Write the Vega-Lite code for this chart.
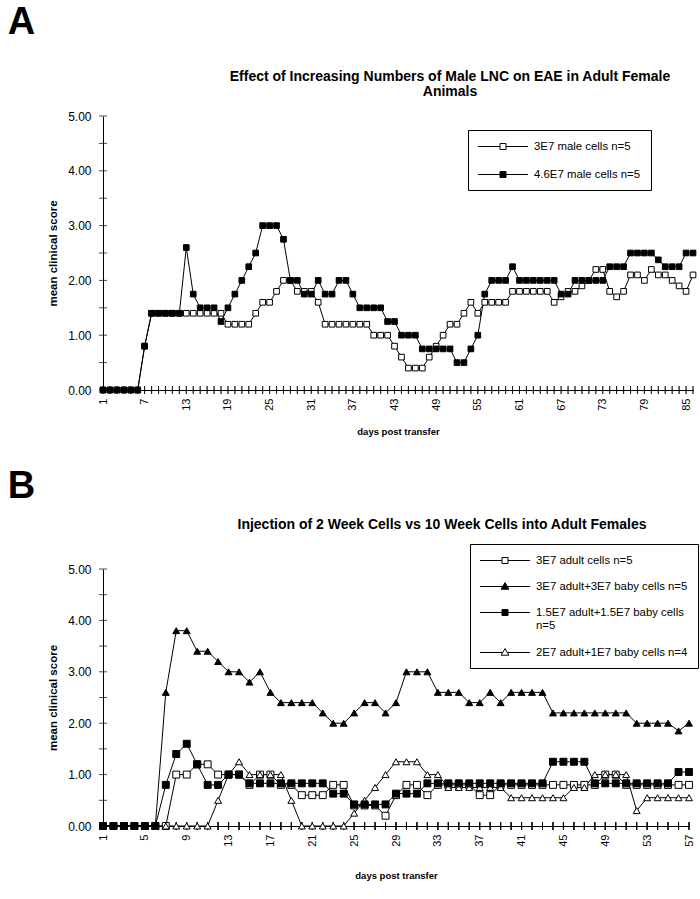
{
  "$schema": "https://vega.github.io/schema/vega-lite/v6.json",
  "padding": {"left": 7, "top": 4, "right": 4, "bottom": 4},
  "config": {
    "font": "Liberation Sans",
    "view": {"stroke": null},
    "axis": {"domainColor": "black", "domainWidth": 1, "ticks": false, "grid": false, "labelColor": "black", "titleColor": "black", "labelFont": "Liberation Sans", "titleFont": "Liberation Sans"},
    "legend": {"labelFont": "Liberation Sans", "labelColor": "black"}
  },
  "resolve": {"scale": {"shape": "independent", "fill": "independent", "stroke": "independent"}, "legend": {"shape": "independent", "fill": "independent", "stroke": "independent"}},
  "datasets": {
    "a": [
      {"day":1,"score":0,"series":"3E7 male cells n=5"},{"day":2,"score":0,"series":"3E7 male cells n=5"},{"day":3,"score":0,"series":"3E7 male cells n=5"},{"day":4,"score":0,"series":"3E7 male cells n=5"},{"day":5,"score":0,"series":"3E7 male cells n=5"},{"day":6,"score":0,"series":"3E7 male cells n=5"},{"day":7,"score":0.8,"series":"3E7 male cells n=5"},{"day":8,"score":1.4,"series":"3E7 male cells n=5"},{"day":9,"score":1.4,"series":"3E7 male cells n=5"},{"day":10,"score":1.4,"series":"3E7 male cells n=5"},{"day":11,"score":1.4,"series":"3E7 male cells n=5"},{"day":12,"score":1.4,"series":"3E7 male cells n=5"},
      {"day":13,"score":1.4,"series":"3E7 male cells n=5"},{"day":14,"score":1.4,"series":"3E7 male cells n=5"},{"day":15,"score":1.4,"series":"3E7 male cells n=5"},{"day":16,"score":1.4,"series":"3E7 male cells n=5"},{"day":17,"score":1.4,"series":"3E7 male cells n=5"},{"day":18,"score":1.4,"series":"3E7 male cells n=5"},
      {"day":19,"score":1.2,"series":"3E7 male cells n=5"},{"day":20,"score":1.2,"series":"3E7 male cells n=5"},{"day":21,"score":1.2,"series":"3E7 male cells n=5"},{"day":22,"score":1.2,"series":"3E7 male cells n=5"},
      {"day":23,"score":1.4,"series":"3E7 male cells n=5"},{"day":24,"score":1.6,"series":"3E7 male cells n=5"},{"day":25,"score":1.6,"series":"3E7 male cells n=5"},{"day":26,"score":1.8,"series":"3E7 male cells n=5"},{"day":27,"score":2.0,"series":"3E7 male cells n=5"},{"day":28,"score":2.0,"series":"3E7 male cells n=5"},
      {"day":29,"score":1.8,"series":"3E7 male cells n=5"},{"day":30,"score":1.8,"series":"3E7 male cells n=5"},{"day":31,"score":1.8,"series":"3E7 male cells n=5"},{"day":32,"score":1.6,"series":"3E7 male cells n=5"},
      {"day":33,"score":1.2,"series":"3E7 male cells n=5"},{"day":34,"score":1.2,"series":"3E7 male cells n=5"},{"day":35,"score":1.2,"series":"3E7 male cells n=5"},{"day":36,"score":1.2,"series":"3E7 male cells n=5"},{"day":37,"score":1.2,"series":"3E7 male cells n=5"},{"day":38,"score":1.2,"series":"3E7 male cells n=5"},{"day":39,"score":1.2,"series":"3E7 male cells n=5"},
      {"day":40,"score":1.0,"series":"3E7 male cells n=5"},{"day":41,"score":1.0,"series":"3E7 male cells n=5"},{"day":42,"score":1.0,"series":"3E7 male cells n=5"},{"day":43,"score":0.8,"series":"3E7 male cells n=5"},{"day":44,"score":0.6,"series":"3E7 male cells n=5"},{"day":45,"score":0.4,"series":"3E7 male cells n=5"},{"day":46,"score":0.4,"series":"3E7 male cells n=5"},{"day":47,"score":0.4,"series":"3E7 male cells n=5"},{"day":48,"score":0.6,"series":"3E7 male cells n=5"},{"day":49,"score":0.8,"series":"3E7 male cells n=5"},{"day":50,"score":1.0,"series":"3E7 male cells n=5"},
      {"day":51,"score":1.2,"series":"3E7 male cells n=5"},{"day":52,"score":1.2,"series":"3E7 male cells n=5"},{"day":53,"score":1.4,"series":"3E7 male cells n=5"},{"day":54,"score":1.6,"series":"3E7 male cells n=5"},{"day":55,"score":1.4,"series":"3E7 male cells n=5"},{"day":56,"score":1.6,"series":"3E7 male cells n=5"},
      {"day":57,"score":1.6,"series":"3E7 male cells n=5"},{"day":58,"score":1.6,"series":"3E7 male cells n=5"},{"day":59,"score":1.6,"series":"3E7 male cells n=5"},
      {"day":60,"score":1.8,"series":"3E7 male cells n=5"},{"day":61,"score":1.8,"series":"3E7 male cells n=5"},{"day":62,"score":1.8,"series":"3E7 male cells n=5"},{"day":63,"score":1.8,"series":"3E7 male cells n=5"},{"day":64,"score":1.8,"series":"3E7 male cells n=5"},{"day":65,"score":1.8,"series":"3E7 male cells n=5"},
      {"day":66,"score":1.6,"series":"3E7 male cells n=5"},{"day":67,"score":1.7,"series":"3E7 male cells n=5"},{"day":68,"score":1.8,"series":"3E7 male cells n=5"},
      {"day":69,"score":1.8,"series":"3E7 male cells n=5"},{"day":70,"score":1.9,"series":"3E7 male cells n=5"},{"day":71,"score":2.0,"series":"3E7 male cells n=5"},{"day":72,"score":2.2,"series":"3E7 male cells n=5"},{"day":73,"score":2.2,"series":"3E7 male cells n=5"},
      {"day":74,"score":1.8,"series":"3E7 male cells n=5"},{"day":75,"score":1.7,"series":"3E7 male cells n=5"},{"day":76,"score":1.8,"series":"3E7 male cells n=5"},{"day":77,"score":2.1,"series":"3E7 male cells n=5"},{"day":78,"score":2.1,"series":"3E7 male cells n=5"},{"day":79,"score":2.0,"series":"3E7 male cells n=5"},{"day":80,"score":2.2,"series":"3E7 male cells n=5"},{"day":81,"score":2.1,"series":"3E7 male cells n=5"},{"day":82,"score":2.1,"series":"3E7 male cells n=5"},{"day":83,"score":2.0,"series":"3E7 male cells n=5"},{"day":84,"score":1.9,"series":"3E7 male cells n=5"},{"day":85,"score":1.8,"series":"3E7 male cells n=5"},{"day":86,"score":2.1,"series":"3E7 male cells n=5"},
      {"day":1,"score":0,"series":"4.6E7 male cells n=5"},{"day":2,"score":0,"series":"4.6E7 male cells n=5"},{"day":3,"score":0,"series":"4.6E7 male cells n=5"},{"day":4,"score":0,"series":"4.6E7 male cells n=5"},{"day":5,"score":0,"series":"4.6E7 male cells n=5"},{"day":6,"score":0,"series":"4.6E7 male cells n=5"},{"day":7,"score":0.8,"series":"4.6E7 male cells n=5"},{"day":8,"score":1.4,"series":"4.6E7 male cells n=5"},{"day":9,"score":1.4,"series":"4.6E7 male cells n=5"},{"day":10,"score":1.4,"series":"4.6E7 male cells n=5"},{"day":11,"score":1.4,"series":"4.6E7 male cells n=5"},{"day":12,"score":1.4,"series":"4.6E7 male cells n=5"},
      {"day":13,"score":2.6,"series":"4.6E7 male cells n=5"},{"day":14,"score":1.75,"series":"4.6E7 male cells n=5"},{"day":15,"score":1.5,"series":"4.6E7 male cells n=5"},{"day":16,"score":1.5,"series":"4.6E7 male cells n=5"},{"day":17,"score":1.5,"series":"4.6E7 male cells n=5"},{"day":18,"score":1.25,"series":"4.6E7 male cells n=5"},
      {"day":19,"score":1.5,"series":"4.6E7 male cells n=5"},{"day":20,"score":1.75,"series":"4.6E7 male cells n=5"},{"day":21,"score":2.0,"series":"4.6E7 male cells n=5"},{"day":22,"score":2.25,"series":"4.6E7 male cells n=5"},
      {"day":23,"score":2.5,"series":"4.6E7 male cells n=5"},{"day":24,"score":3.0,"series":"4.6E7 male cells n=5"},{"day":25,"score":3.0,"series":"4.6E7 male cells n=5"},{"day":26,"score":3.0,"series":"4.6E7 male cells n=5"},{"day":27,"score":2.75,"series":"4.6E7 male cells n=5"},{"day":28,"score":2.0,"series":"4.6E7 male cells n=5"},
      {"day":29,"score":2.0,"series":"4.6E7 male cells n=5"},{"day":30,"score":1.75,"series":"4.6E7 male cells n=5"},{"day":31,"score":1.75,"series":"4.6E7 male cells n=5"},{"day":32,"score":2.0,"series":"4.6E7 male cells n=5"},
      {"day":33,"score":1.75,"series":"4.6E7 male cells n=5"},{"day":34,"score":1.75,"series":"4.6E7 male cells n=5"},{"day":35,"score":2.0,"series":"4.6E7 male cells n=5"},{"day":36,"score":2.0,"series":"4.6E7 male cells n=5"},{"day":37,"score":1.75,"series":"4.6E7 male cells n=5"},{"day":38,"score":1.5,"series":"4.6E7 male cells n=5"},{"day":39,"score":1.5,"series":"4.6E7 male cells n=5"},
      {"day":40,"score":1.5,"series":"4.6E7 male cells n=5"},{"day":41,"score":1.5,"series":"4.6E7 male cells n=5"},{"day":42,"score":1.25,"series":"4.6E7 male cells n=5"},{"day":43,"score":1.25,"series":"4.6E7 male cells n=5"},{"day":44,"score":1.0,"series":"4.6E7 male cells n=5"},{"day":45,"score":1.0,"series":"4.6E7 male cells n=5"},{"day":46,"score":1.0,"series":"4.6E7 male cells n=5"},{"day":47,"score":0.75,"series":"4.6E7 male cells n=5"},{"day":48,"score":0.75,"series":"4.6E7 male cells n=5"},{"day":49,"score":0.75,"series":"4.6E7 male cells n=5"},{"day":50,"score":0.75,"series":"4.6E7 male cells n=5"},
      {"day":51,"score":0.75,"series":"4.6E7 male cells n=5"},{"day":52,"score":0.5,"series":"4.6E7 male cells n=5"},{"day":53,"score":0.5,"series":"4.6E7 male cells n=5"},{"day":54,"score":0.75,"series":"4.6E7 male cells n=5"},{"day":55,"score":1.0,"series":"4.6E7 male cells n=5"},{"day":56,"score":1.75,"series":"4.6E7 male cells n=5"},
      {"day":57,"score":2.0,"series":"4.6E7 male cells n=5"},{"day":58,"score":2.0,"series":"4.6E7 male cells n=5"},{"day":59,"score":2.0,"series":"4.6E7 male cells n=5"},
      {"day":60,"score":2.25,"series":"4.6E7 male cells n=5"},{"day":61,"score":2.0,"series":"4.6E7 male cells n=5"},{"day":62,"score":2.0,"series":"4.6E7 male cells n=5"},{"day":63,"score":2.0,"series":"4.6E7 male cells n=5"},{"day":64,"score":2.0,"series":"4.6E7 male cells n=5"},{"day":65,"score":2.0,"series":"4.6E7 male cells n=5"},
      {"day":66,"score":2.0,"series":"4.6E7 male cells n=5"},{"day":67,"score":1.75,"series":"4.6E7 male cells n=5"},{"day":68,"score":1.75,"series":"4.6E7 male cells n=5"},
      {"day":69,"score":2.0,"series":"4.6E7 male cells n=5"},{"day":70,"score":2.0,"series":"4.6E7 male cells n=5"},{"day":71,"score":2.0,"series":"4.6E7 male cells n=5"},{"day":72,"score":2.0,"series":"4.6E7 male cells n=5"},{"day":73,"score":2.0,"series":"4.6E7 male cells n=5"},
      {"day":74,"score":2.25,"series":"4.6E7 male cells n=5"},{"day":75,"score":2.25,"series":"4.6E7 male cells n=5"},{"day":76,"score":2.25,"series":"4.6E7 male cells n=5"},{"day":77,"score":2.5,"series":"4.6E7 male cells n=5"},{"day":78,"score":2.5,"series":"4.6E7 male cells n=5"},{"day":79,"score":2.5,"series":"4.6E7 male cells n=5"},{"day":80,"score":2.5,"series":"4.6E7 male cells n=5"},{"day":81,"score":2.375,"series":"4.6E7 male cells n=5"},{"day":82,"score":2.25,"series":"4.6E7 male cells n=5"},{"day":83,"score":2.25,"series":"4.6E7 male cells n=5"},{"day":84,"score":2.25,"series":"4.6E7 male cells n=5"},{"day":85,"score":2.5,"series":"4.6E7 male cells n=5"},{"day":86,"score":2.5,"series":"4.6E7 male cells n=5"}
    ],
    "b": [
      {"day":1,"score":0,"series":"3E7 adult cells  n=5"},{"day":2,"score":0,"series":"3E7 adult cells  n=5"},{"day":3,"score":0,"series":"3E7 adult cells  n=5"},{"day":4,"score":0,"series":"3E7 adult cells  n=5"},{"day":5,"score":0,"series":"3E7 adult cells  n=5"},{"day":6,"score":0,"series":"3E7 adult cells  n=5"},{"day":7,"score":0,"series":"3E7 adult cells  n=5"},
      {"day":8,"score":1.0,"series":"3E7 adult cells  n=5"},{"day":9,"score":1.0,"series":"3E7 adult cells  n=5"},{"day":10,"score":1.2,"series":"3E7 adult cells  n=5"},{"day":11,"score":1.2,"series":"3E7 adult cells  n=5"},{"day":12,"score":1.0,"series":"3E7 adult cells  n=5"},{"day":13,"score":1.0,"series":"3E7 adult cells  n=5"},{"day":14,"score":1.0,"series":"3E7 adult cells  n=5"},{"day":15,"score":0.8,"series":"3E7 adult cells  n=5"},{"day":16,"score":1.0,"series":"3E7 adult cells  n=5"},{"day":17,"score":1.0,"series":"3E7 adult cells  n=5"},{"day":18,"score":0.8,"series":"3E7 adult cells  n=5"},{"day":19,"score":0.8,"series":"3E7 adult cells  n=5"},
      {"day":20,"score":0.6,"series":"3E7 adult cells  n=5"},{"day":21,"score":0.6,"series":"3E7 adult cells  n=5"},{"day":22,"score":0.6,"series":"3E7 adult cells  n=5"},{"day":23,"score":0.8,"series":"3E7 adult cells  n=5"},{"day":24,"score":0.8,"series":"3E7 adult cells  n=5"},{"day":25,"score":0.4,"series":"3E7 adult cells  n=5"},{"day":26,"score":0.4,"series":"3E7 adult cells  n=5"},{"day":27,"score":0.4,"series":"3E7 adult cells  n=5"},{"day":28,"score":0.2,"series":"3E7 adult cells  n=5"},{"day":29,"score":0.6,"series":"3E7 adult cells  n=5"},{"day":30,"score":0.8,"series":"3E7 adult cells  n=5"},{"day":31,"score":0.8,"series":"3E7 adult cells  n=5"},{"day":32,"score":0.6,"series":"3E7 adult cells  n=5"},
      {"day":33,"score":0.8,"series":"3E7 adult cells  n=5"},{"day":34,"score":0.8,"series":"3E7 adult cells  n=5"},{"day":35,"score":0.8,"series":"3E7 adult cells  n=5"},{"day":36,"score":0.8,"series":"3E7 adult cells  n=5"},{"day":37,"score":0.6,"series":"3E7 adult cells  n=5"},{"day":38,"score":0.6,"series":"3E7 adult cells  n=5"},{"day":39,"score":0.8,"series":"3E7 adult cells  n=5"},
      {"day":40,"score":0.8,"series":"3E7 adult cells  n=5"},{"day":41,"score":0.8,"series":"3E7 adult cells  n=5"},{"day":42,"score":0.8,"series":"3E7 adult cells  n=5"},{"day":43,"score":0.8,"series":"3E7 adult cells  n=5"},{"day":44,"score":0.8,"series":"3E7 adult cells  n=5"},{"day":45,"score":0.8,"series":"3E7 adult cells  n=5"},{"day":46,"score":0.8,"series":"3E7 adult cells  n=5"},{"day":47,"score":0.8,"series":"3E7 adult cells  n=5"},{"day":48,"score":0.8,"series":"3E7 adult cells  n=5"},{"day":49,"score":1.0,"series":"3E7 adult cells  n=5"},{"day":50,"score":1.0,"series":"3E7 adult cells  n=5"},
      {"day":51,"score":0.8,"series":"3E7 adult cells  n=5"},{"day":52,"score":0.8,"series":"3E7 adult cells  n=5"},{"day":53,"score":0.8,"series":"3E7 adult cells  n=5"},{"day":54,"score":0.8,"series":"3E7 adult cells  n=5"},{"day":55,"score":0.8,"series":"3E7 adult cells  n=5"},{"day":56,"score":0.8,"series":"3E7 adult cells  n=5"},{"day":57,"score":0.8,"series":"3E7 adult cells  n=5"},

      {"day":1,"score":0,"series":"2E7 adult+1E7 baby cells n=4"},{"day":2,"score":0,"series":"2E7 adult+1E7 baby cells n=4"},{"day":3,"score":0,"series":"2E7 adult+1E7 baby cells n=4"},{"day":4,"score":0,"series":"2E7 adult+1E7 baby cells n=4"},{"day":5,"score":0,"series":"2E7 adult+1E7 baby cells n=4"},{"day":6,"score":0,"series":"2E7 adult+1E7 baby cells n=4"},{"day":7,"score":0,"series":"2E7 adult+1E7 baby cells n=4"},{"day":8,"score":0,"series":"2E7 adult+1E7 baby cells n=4"},{"day":9,"score":0,"series":"2E7 adult+1E7 baby cells n=4"},{"day":10,"score":0,"series":"2E7 adult+1E7 baby cells n=4"},{"day":11,"score":0,"series":"2E7 adult+1E7 baby cells n=4"},
      {"day":12,"score":0.5,"series":"2E7 adult+1E7 baby cells n=4"},{"day":13,"score":1.0,"series":"2E7 adult+1E7 baby cells n=4"},{"day":14,"score":1.25,"series":"2E7 adult+1E7 baby cells n=4"},{"day":15,"score":1.0,"series":"2E7 adult+1E7 baby cells n=4"},{"day":16,"score":1.0,"series":"2E7 adult+1E7 baby cells n=4"},{"day":17,"score":1.0,"series":"2E7 adult+1E7 baby cells n=4"},{"day":18,"score":1.0,"series":"2E7 adult+1E7 baby cells n=4"},{"day":19,"score":0.5,"series":"2E7 adult+1E7 baby cells n=4"},
      {"day":20,"score":0,"series":"2E7 adult+1E7 baby cells n=4"},{"day":21,"score":0,"series":"2E7 adult+1E7 baby cells n=4"},{"day":22,"score":0,"series":"2E7 adult+1E7 baby cells n=4"},{"day":23,"score":0,"series":"2E7 adult+1E7 baby cells n=4"},{"day":24,"score":0,"series":"2E7 adult+1E7 baby cells n=4"},
      {"day":25,"score":0.25,"series":"2E7 adult+1E7 baby cells n=4"},{"day":26,"score":0.5,"series":"2E7 adult+1E7 baby cells n=4"},{"day":27,"score":0.75,"series":"2E7 adult+1E7 baby cells n=4"},{"day":28,"score":1.0,"series":"2E7 adult+1E7 baby cells n=4"},{"day":29,"score":1.25,"series":"2E7 adult+1E7 baby cells n=4"},{"day":30,"score":1.25,"series":"2E7 adult+1E7 baby cells n=4"},{"day":31,"score":1.25,"series":"2E7 adult+1E7 baby cells n=4"},{"day":32,"score":1.0,"series":"2E7 adult+1E7 baby cells n=4"},{"day":33,"score":1.0,"series":"2E7 adult+1E7 baby cells n=4"},
      {"day":34,"score":0.75,"series":"2E7 adult+1E7 baby cells n=4"},{"day":35,"score":0.75,"series":"2E7 adult+1E7 baby cells n=4"},{"day":36,"score":0.75,"series":"2E7 adult+1E7 baby cells n=4"},{"day":37,"score":0.75,"series":"2E7 adult+1E7 baby cells n=4"},{"day":38,"score":0.75,"series":"2E7 adult+1E7 baby cells n=4"},{"day":39,"score":0.75,"series":"2E7 adult+1E7 baby cells n=4"},
      {"day":40,"score":0.55,"series":"2E7 adult+1E7 baby cells n=4"},{"day":41,"score":0.55,"series":"2E7 adult+1E7 baby cells n=4"},{"day":42,"score":0.55,"series":"2E7 adult+1E7 baby cells n=4"},{"day":43,"score":0.55,"series":"2E7 adult+1E7 baby cells n=4"},{"day":44,"score":0.55,"series":"2E7 adult+1E7 baby cells n=4"},{"day":45,"score":0.55,"series":"2E7 adult+1E7 baby cells n=4"},
      {"day":46,"score":0.75,"series":"2E7 adult+1E7 baby cells n=4"},{"day":47,"score":0.75,"series":"2E7 adult+1E7 baby cells n=4"},{"day":48,"score":1.0,"series":"2E7 adult+1E7 baby cells n=4"},{"day":49,"score":1.0,"series":"2E7 adult+1E7 baby cells n=4"},{"day":50,"score":1.0,"series":"2E7 adult+1E7 baby cells n=4"},{"day":51,"score":1.0,"series":"2E7 adult+1E7 baby cells n=4"},
      {"day":52,"score":0.3,"series":"2E7 adult+1E7 baby cells n=4"},{"day":53,"score":0.55,"series":"2E7 adult+1E7 baby cells n=4"},{"day":54,"score":0.55,"series":"2E7 adult+1E7 baby cells n=4"},{"day":55,"score":0.55,"series":"2E7 adult+1E7 baby cells n=4"},{"day":56,"score":0.55,"series":"2E7 adult+1E7 baby cells n=4"},{"day":57,"score":0.55,"series":"2E7 adult+1E7 baby cells n=4"},

      {"day":1,"score":0,"series":"1.5E7 adult+1.5E7 baby cells n=5"},{"day":2,"score":0,"series":"1.5E7 adult+1.5E7 baby cells n=5"},{"day":3,"score":0,"series":"1.5E7 adult+1.5E7 baby cells n=5"},{"day":4,"score":0,"series":"1.5E7 adult+1.5E7 baby cells n=5"},{"day":5,"score":0,"series":"1.5E7 adult+1.5E7 baby cells n=5"},{"day":6,"score":0,"series":"1.5E7 adult+1.5E7 baby cells n=5"},{"day":7,"score":0.8,"series":"1.5E7 adult+1.5E7 baby cells n=5"},
      {"day":8,"score":1.4,"series":"1.5E7 adult+1.5E7 baby cells n=5"},{"day":9,"score":1.6,"series":"1.5E7 adult+1.5E7 baby cells n=5"},{"day":10,"score":1.2,"series":"1.5E7 adult+1.5E7 baby cells n=5"},{"day":11,"score":0.8,"series":"1.5E7 adult+1.5E7 baby cells n=5"},{"day":12,"score":0.8,"series":"1.5E7 adult+1.5E7 baby cells n=5"},{"day":13,"score":1.0,"series":"1.5E7 adult+1.5E7 baby cells n=5"},{"day":14,"score":1.0,"series":"1.5E7 adult+1.5E7 baby cells n=5"},{"day":15,"score":0.83,"series":"1.5E7 adult+1.5E7 baby cells n=5"},{"day":16,"score":0.83,"series":"1.5E7 adult+1.5E7 baby cells n=5"},{"day":17,"score":0.83,"series":"1.5E7 adult+1.5E7 baby cells n=5"},{"day":18,"score":0.83,"series":"1.5E7 adult+1.5E7 baby cells n=5"},{"day":19,"score":0.83,"series":"1.5E7 adult+1.5E7 baby cells n=5"},
      {"day":20,"score":0.83,"series":"1.5E7 adult+1.5E7 baby cells n=5"},{"day":21,"score":0.83,"series":"1.5E7 adult+1.5E7 baby cells n=5"},{"day":22,"score":0.83,"series":"1.5E7 adult+1.5E7 baby cells n=5"},{"day":23,"score":0.63,"series":"1.5E7 adult+1.5E7 baby cells n=5"},{"day":24,"score":0.63,"series":"1.5E7 adult+1.5E7 baby cells n=5"},{"day":25,"score":0.42,"series":"1.5E7 adult+1.5E7 baby cells n=5"},{"day":26,"score":0.42,"series":"1.5E7 adult+1.5E7 baby cells n=5"},{"day":27,"score":0.42,"series":"1.5E7 adult+1.5E7 baby cells n=5"},{"day":28,"score":0.42,"series":"1.5E7 adult+1.5E7 baby cells n=5"},{"day":29,"score":0.63,"series":"1.5E7 adult+1.5E7 baby cells n=5"},{"day":30,"score":0.63,"series":"1.5E7 adult+1.5E7 baby cells n=5"},{"day":31,"score":0.63,"series":"1.5E7 adult+1.5E7 baby cells n=5"},{"day":32,"score":0.83,"series":"1.5E7 adult+1.5E7 baby cells n=5"},
      {"day":33,"score":0.83,"series":"1.5E7 adult+1.5E7 baby cells n=5"},{"day":34,"score":0.83,"series":"1.5E7 adult+1.5E7 baby cells n=5"},{"day":35,"score":0.83,"series":"1.5E7 adult+1.5E7 baby cells n=5"},{"day":36,"score":0.83,"series":"1.5E7 adult+1.5E7 baby cells n=5"},{"day":37,"score":0.83,"series":"1.5E7 adult+1.5E7 baby cells n=5"},{"day":38,"score":0.83,"series":"1.5E7 adult+1.5E7 baby cells n=5"},{"day":39,"score":0.83,"series":"1.5E7 adult+1.5E7 baby cells n=5"},
      {"day":40,"score":0.83,"series":"1.5E7 adult+1.5E7 baby cells n=5"},{"day":41,"score":0.83,"series":"1.5E7 adult+1.5E7 baby cells n=5"},{"day":42,"score":0.83,"series":"1.5E7 adult+1.5E7 baby cells n=5"},{"day":43,"score":0.83,"series":"1.5E7 adult+1.5E7 baby cells n=5"},{"day":44,"score":1.25,"series":"1.5E7 adult+1.5E7 baby cells n=5"},{"day":45,"score":1.25,"series":"1.5E7 adult+1.5E7 baby cells n=5"},{"day":46,"score":1.25,"series":"1.5E7 adult+1.5E7 baby cells n=5"},{"day":47,"score":1.25,"series":"1.5E7 adult+1.5E7 baby cells n=5"},{"day":48,"score":0.83,"series":"1.5E7 adult+1.5E7 baby cells n=5"},{"day":49,"score":0.83,"series":"1.5E7 adult+1.5E7 baby cells n=5"},{"day":50,"score":0.83,"series":"1.5E7 adult+1.5E7 baby cells n=5"},
      {"day":51,"score":0.83,"series":"1.5E7 adult+1.5E7 baby cells n=5"},{"day":52,"score":0.83,"series":"1.5E7 adult+1.5E7 baby cells n=5"},{"day":53,"score":0.83,"series":"1.5E7 adult+1.5E7 baby cells n=5"},{"day":54,"score":0.83,"series":"1.5E7 adult+1.5E7 baby cells n=5"},{"day":55,"score":0.83,"series":"1.5E7 adult+1.5E7 baby cells n=5"},{"day":56,"score":1.05,"series":"1.5E7 adult+1.5E7 baby cells n=5"},{"day":57,"score":1.05,"series":"1.5E7 adult+1.5E7 baby cells n=5"},

      {"day":1,"score":0,"series":"3E7 adult+3E7 baby cells n=5"},{"day":2,"score":0,"series":"3E7 adult+3E7 baby cells n=5"},{"day":3,"score":0,"series":"3E7 adult+3E7 baby cells n=5"},{"day":4,"score":0,"series":"3E7 adult+3E7 baby cells n=5"},{"day":5,"score":0,"series":"3E7 adult+3E7 baby cells n=5"},{"day":6,"score":0,"series":"3E7 adult+3E7 baby cells n=5"},{"day":7,"score":2.6,"series":"3E7 adult+3E7 baby cells n=5"},
      {"day":8,"score":3.8,"series":"3E7 adult+3E7 baby cells n=5"},{"day":9,"score":3.8,"series":"3E7 adult+3E7 baby cells n=5"},{"day":10,"score":3.4,"series":"3E7 adult+3E7 baby cells n=5"},{"day":11,"score":3.4,"series":"3E7 adult+3E7 baby cells n=5"},{"day":12,"score":3.2,"series":"3E7 adult+3E7 baby cells n=5"},{"day":13,"score":3.0,"series":"3E7 adult+3E7 baby cells n=5"},{"day":14,"score":3.0,"series":"3E7 adult+3E7 baby cells n=5"},{"day":15,"score":2.8,"series":"3E7 adult+3E7 baby cells n=5"},{"day":16,"score":3.0,"series":"3E7 adult+3E7 baby cells n=5"},{"day":17,"score":2.6,"series":"3E7 adult+3E7 baby cells n=5"},{"day":18,"score":2.4,"series":"3E7 adult+3E7 baby cells n=5"},{"day":19,"score":2.4,"series":"3E7 adult+3E7 baby cells n=5"},
      {"day":20,"score":2.4,"series":"3E7 adult+3E7 baby cells n=5"},{"day":21,"score":2.4,"series":"3E7 adult+3E7 baby cells n=5"},{"day":22,"score":2.2,"series":"3E7 adult+3E7 baby cells n=5"},{"day":23,"score":2.0,"series":"3E7 adult+3E7 baby cells n=5"},{"day":24,"score":2.0,"series":"3E7 adult+3E7 baby cells n=5"},{"day":25,"score":2.2,"series":"3E7 adult+3E7 baby cells n=5"},{"day":26,"score":2.4,"series":"3E7 adult+3E7 baby cells n=5"},{"day":27,"score":2.4,"series":"3E7 adult+3E7 baby cells n=5"},{"day":28,"score":2.2,"series":"3E7 adult+3E7 baby cells n=5"},{"day":29,"score":2.4,"series":"3E7 adult+3E7 baby cells n=5"},{"day":30,"score":3.0,"series":"3E7 adult+3E7 baby cells n=5"},{"day":31,"score":3.0,"series":"3E7 adult+3E7 baby cells n=5"},{"day":32,"score":3.0,"series":"3E7 adult+3E7 baby cells n=5"},
      {"day":33,"score":2.6,"series":"3E7 adult+3E7 baby cells n=5"},{"day":34,"score":2.6,"series":"3E7 adult+3E7 baby cells n=5"},{"day":35,"score":2.6,"series":"3E7 adult+3E7 baby cells n=5"},{"day":36,"score":2.4,"series":"3E7 adult+3E7 baby cells n=5"},{"day":37,"score":2.4,"series":"3E7 adult+3E7 baby cells n=5"},{"day":38,"score":2.6,"series":"3E7 adult+3E7 baby cells n=5"},{"day":39,"score":2.4,"series":"3E7 adult+3E7 baby cells n=5"},
      {"day":40,"score":2.6,"series":"3E7 adult+3E7 baby cells n=5"},{"day":41,"score":2.6,"series":"3E7 adult+3E7 baby cells n=5"},{"day":42,"score":2.6,"series":"3E7 adult+3E7 baby cells n=5"},{"day":43,"score":2.6,"series":"3E7 adult+3E7 baby cells n=5"},{"day":44,"score":2.2,"series":"3E7 adult+3E7 baby cells n=5"},{"day":45,"score":2.2,"series":"3E7 adult+3E7 baby cells n=5"},{"day":46,"score":2.2,"series":"3E7 adult+3E7 baby cells n=5"},{"day":47,"score":2.2,"series":"3E7 adult+3E7 baby cells n=5"},{"day":48,"score":2.2,"series":"3E7 adult+3E7 baby cells n=5"},{"day":49,"score":2.2,"series":"3E7 adult+3E7 baby cells n=5"},{"day":50,"score":2.2,"series":"3E7 adult+3E7 baby cells n=5"},
      {"day":51,"score":2.2,"series":"3E7 adult+3E7 baby cells n=5"},{"day":52,"score":2.0,"series":"3E7 adult+3E7 baby cells n=5"},{"day":53,"score":2.0,"series":"3E7 adult+3E7 baby cells n=5"},{"day":54,"score":2.0,"series":"3E7 adult+3E7 baby cells n=5"},{"day":55,"score":2.0,"series":"3E7 adult+3E7 baby cells n=5"},{"day":56,"score":1.85,"series":"3E7 adult+3E7 baby cells n=5"},{"day":57,"score":2.0,"series":"3E7 adult+3E7 baby cells n=5"}
    ],
    "yt": [{"v":0},{"v":0.5},{"v":1},{"v":1.5},{"v":2},{"v":2.5},{"v":3},{"v":3.5},{"v":4},{"v":4.5},{"v":5}]
  },
  "spacing": 31,
  "vconcat": [
    {
      "title": {"text": "A", "anchor": "start", "fontSize": 38, "fontWeight": "bold", "color": "black", "dx": -40, "offset": 28},
      "vconcat": [
        {
          "width": 590,
          "height": 274,
          "title": {"text": ["Effect of Increasing Numbers of Male LNC on EAE in Adult Female", "Animals"], "fontSize": 14, "fontWeight": "bold", "color": "black", "dx": 52, "offset": 11, "lineHeight": 15},
          "resolve": {"scale": {"shape": "independent", "fill": "independent", "stroke": "independent"}},
          "layer": [
            {
              "data": {"name": "a"},
              "mark": {"type": "tick", "orient": "vertical", "color": "black", "thickness": 1, "size": 8},
              "encoding": {
                "x": {"field": "day", "type": "quantitative", "scale": {"domain": [1, 86], "nice": false, "zero": false}, "axis": {"values": [1,4,7,10,13,16,19,22,25,28,31,34,37,40,43,46,49,52,55,58,61,64,67,70,73,76,79,82,85], "labelAngle": -90, "labelFontSize": 11, "labelPadding": 8, "title": "days post transfer", "titleFontSize": 9.5, "titleFontWeight": "bold", "titlePadding": 16}},
                "y": {"datum": 0, "type": "quantitative", "scale": {"domain": [0, 5], "nice": false}, "axis": {"values": [0,0.5,1,1.5,2,2.5,3,3.5,4,4.5,5], "format": ".2f", "labelFontSize": 12, "labelPadding": 12, "title": "mean clinical score", "titleFontSize": 11.5, "titleFontWeight": "bold", "titlePadding": 9}}
              }
            },
            {
              "data": {"name": "yt"},
              "mark": {"type": "tick", "orient": "horizontal", "color": "black", "thickness": 1, "size": 8},
              "encoding": {
                "x": {"datum": 1, "type": "quantitative"},
                "y": {"field": "v", "type": "quantitative"}
              }
            },
            {
              "data": {"name": "a"},
              "mark": {"type": "line", "color": "black", "strokeWidth": 1},
              "encoding": {
                "x": {"field": "day", "type": "quantitative"},
                "y": {"field": "score", "type": "quantitative"},
                "detail": {"field": "series"}
              }
            },
            {
              "data": {"name": "a"},
              "mark": {"type": "point", "filled": true, "stroke": "black", "strokeWidth": 1, "size": 32, "opacity": 1},
              "encoding": {
                "x": {"field": "day", "type": "quantitative"},
                "y": {"field": "score", "type": "quantitative"},
                "fill": {"field": "series", "type": "nominal", "scale": {"domain": ["3E7 male cells n=5", "4.6E7 male cells n=5"], "range": ["white", "black"]}, "legend": null},
                "shape": {"field": "series", "type": "nominal", "scale": {"domain": ["3E7 male cells n=5", "4.6E7 male cells n=5"], "range": ["square", "square"]}, "legend": null}
              }
            },
            {
              "data": {"name": "a"},
              "transform": [{"filter": "false"}],
              "mark": {"type": "point", "filled": false, "strokeWidth": 1, "size": 144, "opacity": 1},
              "encoding": {
                "x": {"field": "day", "type": "quantitative"},
                "y": {"field": "score", "type": "quantitative"},
                "stroke": {"field": "series", "type": "nominal", "scale": {"domain": ["3E7 male cells n=5", "4.6E7 male cells n=5"], "range": ["black", "black"]},
                  "legend": {"title": null, "orient": "none", "legendX": 365, "legendY": 14, "strokeColor": "black", "padding": 10, "symbolSize": 144, "symbolStrokeWidth": 1, "symbolOffset": 18.5, "labelFontSize": 11.4, "labelOffset": 24.5, "rowPadding": 16}},
                "fill": {"field": "series", "type": "nominal", "scale": {"domain": ["3E7 male cells n=5", "4.6E7 male cells n=5"], "range": ["white", "black"]},
                  "legend": {"title": null, "orient": "none", "legendX": 365, "legendY": 14, "strokeColor": "black", "padding": 10, "symbolSize": 144, "symbolStrokeWidth": 1, "symbolOffset": 18.5, "labelFontSize": 11.4, "labelOffset": 24.5, "rowPadding": 16}},
                "shape": {"field": "series", "type": "nominal", "scale": {"domain": ["3E7 male cells n=5", "4.6E7 male cells n=5"], "range": ["M-4.17,0H-0.5M0.5,0H4.17M-0.5,-0.5H0.5V0.5H-0.5Z", "M-4.17,0H-0.5M0.5,0H4.17M-0.5,-0.5H0.5V0.5H-0.5Z"]},
                  "legend": {"title": null, "orient": "none", "legendX": 365, "legendY": 14, "strokeColor": "black", "padding": 10, "symbolSize": 144, "symbolStrokeWidth": 1, "symbolOffset": 18.5, "labelFontSize": 11.4, "labelOffset": 24.5, "rowPadding": 16}}
              }
            }
          ]
        }
      ]
    },
    {
      "title": {"text": "B", "anchor": "start", "fontSize": 38, "fontWeight": "bold", "color": "black", "dx": -40, "offset": 12},
      "vconcat": [
        {
          "width": 586,
          "height": 257,
          "title": {"text": "Injection of 2 Week Cells vs 10 Week Cells into Adult Females", "fontSize": 14, "fontWeight": "bold", "color": "black", "dx": 46, "offset": 12},
          "resolve": {"scale": {"shape": "independent", "fill": "independent", "stroke": "independent"}},
          "layer": [
            {
              "data": {"name": "b"},
              "mark": {"type": "tick", "orient": "vertical", "color": "black", "thickness": 1, "size": 8},
              "encoding": {
                "x": {"field": "day", "type": "quantitative", "scale": {"domain": [1, 57], "nice": false, "zero": false}, "axis": {"values": [1,3,5,7,9,11,13,15,17,19,21,23,25,27,29,31,33,35,37,39,41,43,45,47,49,51,53,55,57], "labelAngle": -90, "labelFontSize": 11, "labelPadding": 8, "title": "days post transfer", "titleFontSize": 9.5, "titleFontWeight": "bold", "titlePadding": 24}},
                "y": {"datum": 0, "type": "quantitative", "scale": {"domain": [0, 5], "nice": false}, "axis": {"values": [0,0.5,1,1.5,2,2.5,3,3.5,4,4.5,5], "format": ".2f", "labelFontSize": 12, "labelPadding": 12, "title": "mean clinical score", "titleFontSize": 11.5, "titleFontWeight": "bold", "titlePadding": 9}}
              }
            },
            {
              "data": {"name": "yt"},
              "mark": {"type": "tick", "orient": "horizontal", "color": "black", "thickness": 1, "size": 8},
              "encoding": {
                "x": {"datum": 1, "type": "quantitative"},
                "y": {"field": "v", "type": "quantitative"}
              }
            },
            {
              "data": {"name": "b"},
              "mark": {"type": "line", "color": "black", "strokeWidth": 1},
              "encoding": {
                "x": {"field": "day", "type": "quantitative"},
                "y": {"field": "score", "type": "quantitative"},
                "detail": {"field": "series"}
              }
            },
            {
              "data": {"name": "b"},
              "mark": {"type": "point", "filled": true, "stroke": "black", "strokeWidth": 1, "size": 48, "opacity": 1},
              "encoding": {
                "x": {"field": "day", "type": "quantitative"},
                "y": {"field": "score", "type": "quantitative"},
                "fill": {"field": "series", "type": "nominal", "scale": {"domain": ["3E7 adult cells  n=5", "3E7 adult+3E7 baby cells n=5", "1.5E7 adult+1.5E7 baby cells n=5", "2E7 adult+1E7 baby cells n=4"], "range": ["white", "black", "black", "white"]}, "legend": null},
                "shape": {"field": "series", "type": "nominal", "scale": {"domain": ["3E7 adult cells  n=5", "3E7 adult+3E7 baby cells n=5", "1.5E7 adult+1.5E7 baby cells n=5", "2E7 adult+1E7 baby cells n=4"], "range": ["square", "triangle-up", "square", "triangle-up"]}, "legend": null}
              }
            },
            {
              "data": {"name": "b"},
              "transform": [{"filter": "false"}],
              "mark": {"type": "point", "filled": false, "strokeWidth": 1, "size": 144, "opacity": 1},
              "encoding": {
                "x": {"field": "day", "type": "quantitative"},
                "y": {"field": "score", "type": "quantitative"},
                "stroke": {"field": "series", "type": "nominal", "scale": {"domain": ["3E7 adult cells  n=5", "3E7 adult+3E7 baby cells n=5", "1.5E7 adult+1.5E7 baby cells n=5", "2E7 adult+1E7 baby cells n=4"], "range": ["black", "black", "black", "black"]},
                  "legend": {"title": null, "orient": "none", "legendX": 367, "legendY": -25, "strokeColor": "black", "padding": 10, "symbolSize": 144, "symbolStrokeWidth": 1, "symbolOffset": 18.5, "labelFontSize": 11.4, "labelOffset": 24.5, "rowPadding": 14, "labelLimit": 300,
                    "labelExpr": "datum.label === '1.5E7 adult+1.5E7 baby cells n=5' ? ['1.5E7 adult+1.5E7 baby cells', 'n=5'] : datum.label"}},
                "fill": {"field": "series", "type": "nominal", "scale": {"domain": ["3E7 adult cells  n=5", "3E7 adult+3E7 baby cells n=5", "1.5E7 adult+1.5E7 baby cells n=5", "2E7 adult+1E7 baby cells n=4"], "range": ["white", "black", "black", "white"]},
                  "legend": {"title": null, "orient": "none", "legendX": 367, "legendY": -25, "strokeColor": "black", "padding": 10, "symbolSize": 144, "symbolStrokeWidth": 1, "symbolOffset": 18.5, "labelFontSize": 11.4, "labelOffset": 24.5, "rowPadding": 14, "labelLimit": 300,
                    "labelExpr": "datum.label === '1.5E7 adult+1.5E7 baby cells n=5' ? ['1.5E7 adult+1.5E7 baby cells', 'n=5'] : datum.label"}},
                "shape": {"field": "series", "type": "nominal", "scale": {"domain": ["3E7 adult cells  n=5", "3E7 adult+3E7 baby cells n=5", "1.5E7 adult+1.5E7 baby cells n=5", "2E7 adult+1E7 baby cells n=4"], "range": ["M-4.17,0H-0.5M0.5,0H4.17M-0.5,-0.5H0.5V0.5H-0.5Z", "M-4.17,0H4.17M0,-0.65L0.65,0.45H-0.65Z", "M-4.17,0H-0.5M0.5,0H4.17M-0.5,-0.5H0.5V0.5H-0.5Z", "M-4.17,0H-0.38M0.38,0H4.17M0,-0.65L0.65,0.45H-0.65Z"]},
                  "legend": {"title": null, "orient": "none", "legendX": 367, "legendY": -25, "strokeColor": "black", "padding": 10, "symbolSize": 144, "symbolStrokeWidth": 1, "symbolOffset": 18.5, "labelFontSize": 11.4, "labelOffset": 24.5, "rowPadding": 14, "labelLimit": 300,
                    "labelExpr": "datum.label === '1.5E7 adult+1.5E7 baby cells n=5' ? ['1.5E7 adult+1.5E7 baby cells', 'n=5'] : datum.label"}}
              }
            }
          ]
        }
      ]
    }
  ]
}
